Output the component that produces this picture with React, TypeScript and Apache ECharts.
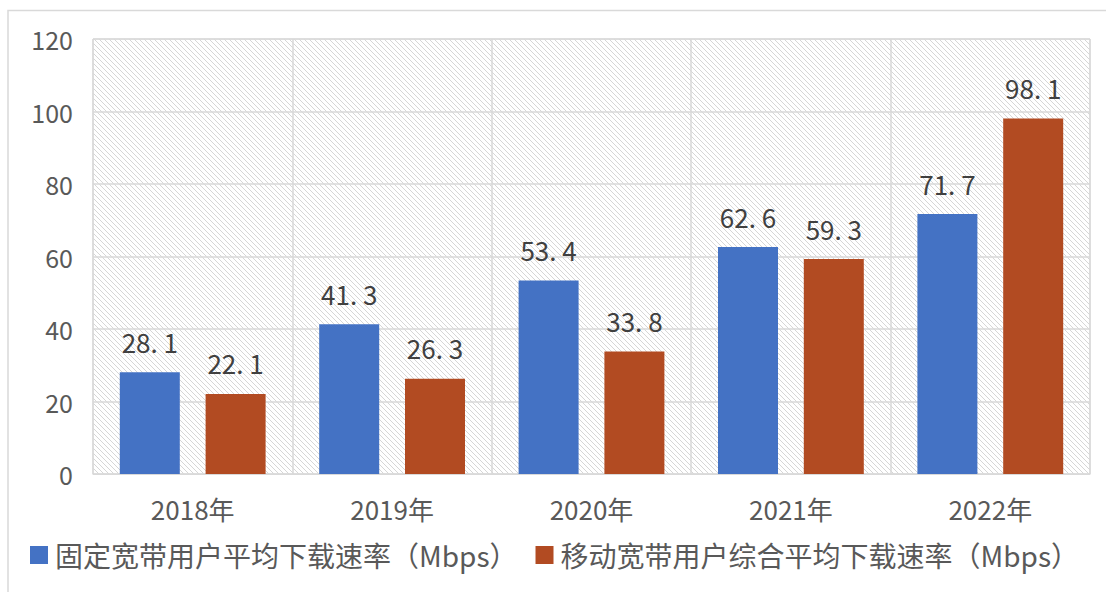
import React, { useEffect, useRef } from "react";
import * as echarts from "echarts";

const categories = ["2018年", "2019年", "2020年", "2021年", "2022年"];
const fixedBroadband = [28.1, 41.3, 53.4, 62.6, 71.7];
const mobileBroadband = [22.1, 26.3, 33.8, 59.3, 98.1];
const seriesNames = ["固定宽带用户平均下载速率（Mbps）", "移动宽带用户综合平均下载速率（Mbps）"];

function makeHatch(): string {
  const c = document.createElement("canvas");
  const n = 5;
  c.width = n;
  c.height = n;
  const ctx = c.getContext("2d");
  if (!ctx) return "";
  ctx.fillStyle = "#ffffff";
  ctx.fillRect(0, 0, n, n);
  ctx.fillStyle = "#d6d6d6";
  for (let i = 0; i < n; i++) ctx.fillRect(i, i, 1, 1);
  return c.toDataURL();
}

export default function App() {
  const ref = useRef<HTMLDivElement>(null);
  useEffect(() => {
    if (!ref.current) return;
    const chart = echarts.init(ref.current, null, { renderer: "svg" });
    const hatch = makeHatch();
    const font = "'Noto Sans CJK SC', 'Noto Sans', sans-serif";
    const labelFmt = (p: any) => String(p.value).replace(".", ". ");
    chart.setOption({
      animation: false,
      backgroundColor: "#ffffff",
      textStyle: { fontFamily: font },
      grid: {
        left: 93,
        top: 39,
        right: 16,
        bottom: 118,
        show: true,
        backgroundColor: { image: hatch, repeat: "repeat" },
        borderColor: "#d9d9d9",
        borderWidth: 1,
      },
      legend: {
        left: 30,
        top: 541,
        width: 1076,
        padding: 0,
        itemWidth: 18,
        itemHeight: 18,
        itemGap: 18,
        icon: "rect",
        textStyle: { fontSize: 28, color: "#595959", fontFamily: font, padding: [0, 0, 0, 2] },
        data: seriesNames,
      },
      xAxis: {
        type: "category",
        data: categories,
        axisLine: { show: true, lineStyle: { color: "#d9d9d9" } },
        axisTick: { show: false },
        splitLine: { show: true, lineStyle: { color: "#d9d9d9", width: 1.5 } },
        axisLabel: { fontSize: 26, color: "#595959", margin: 21, fontFamily: font },
      },
      yAxis: {
        type: "value",
        min: 0,
        max: 120,
        interval: 20,
        axisLine: { show: false },
        axisTick: { show: false },
        splitLine: { show: true, lineStyle: { color: "#d9d9d9", width: 1.5 } },
        axisLabel: { fontSize: 25, color: "#595959", margin: 20, fontFamily: font },
      },
      series: [
        {
          name: seriesNames[0],
          type: "bar",
          data: fixedBroadband,
          barWidth: 60,
          barGap: "43%",
          itemStyle: { color: "#4472C4" },
          label: { show: true, position: "top", distance: 18, fontSize: 26, color: "#404040", formatter: labelFmt, fontFamily: font },
        },
        {
          name: seriesNames[1],
          type: "bar",
          data: mobileBroadband,
          barWidth: 60,
          itemStyle: { color: "#B24B22" },
          label: { show: true, position: "top", distance: 18, fontSize: 26, color: "#404040", formatter: labelFmt, fontFamily: font },
        },
      ],
      graphic: [
        {
          type: "polyline",
          shape: { points: [[8, 592], [8, 10.5], [1106, 10.5]] },
          style: { stroke: "#d9d9d9", lineWidth: 1.5, fill: null },
          silent: true,
        },
      ],
    });
    return () => chart.dispose();
  }, []);
  return <div ref={ref} style={{ width: 1106, height: 592, position: "absolute", left: 0, top: 0 }} />;
}
